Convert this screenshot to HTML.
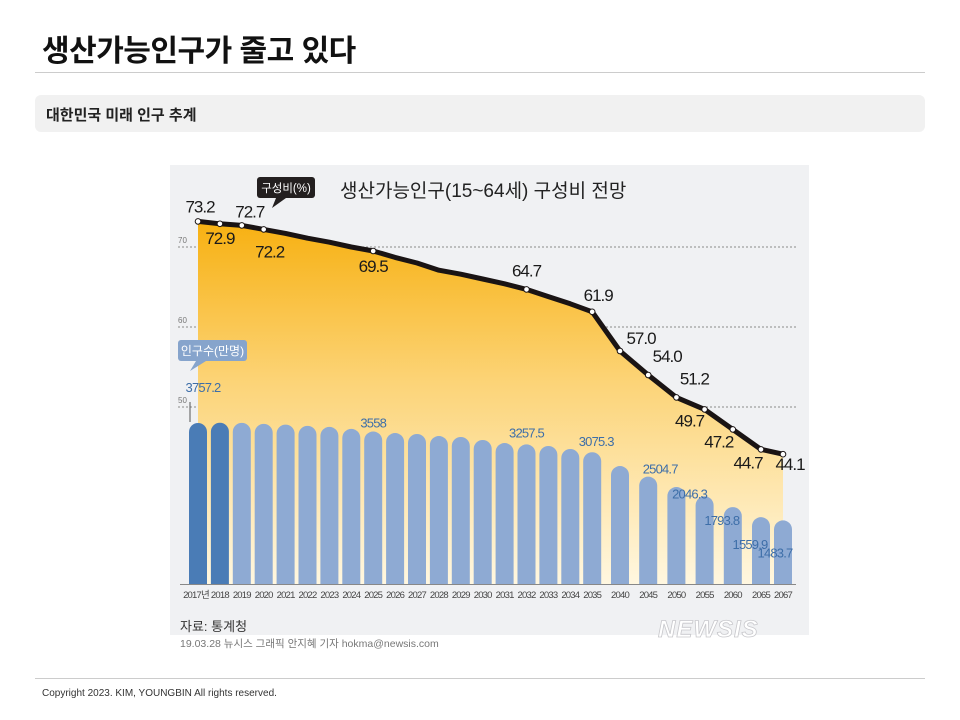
<!DOCTYPE html>
<html><head><meta charset="utf-8"><style>
body{margin:0;background:#fff;width:960px;height:720px;overflow:hidden;font-family:"Liberation Sans","Noto Sans CJK KR",sans-serif;position:relative}
.t{position:absolute;white-space:nowrap}
</style></head><body>
<div class="t" style="left:42px;top:26px;font-size:30px;font-weight:bold;color:#111;letter-spacing:-0.5px">생산가능인구가 줄고 있다</div>
<div style="position:absolute;left:35px;top:72px;width:890px;height:1px;background:#ccc"></div>
<div style="position:absolute;left:35px;top:95px;width:890px;height:37px;background:#f1f1f1;border-radius:6px"></div>
<div class="t" style="left:46px;top:104px;font-size:15px;color:#222;font-weight:bold">대한민국 미래 인구 추계</div>
<svg id="chart" style="position:absolute;left:0;top:0" width="960" height="720" font-family="Liberation Sans, Noto Sans CJK KR, sans-serif">
<defs>
<linearGradient id="ag" gradientUnits="userSpaceOnUse" x1="0" y1="220" x2="0" y2="584">
<stop offset="0" stop-color="#f7b010"/><stop offset="0.45" stop-color="#fcd478"/><stop offset="1" stop-color="#fff7e0"/>
</linearGradient>
</defs>
<rect x="170" y="165" width="639" height="470" fill="#f0f1f3"/>
<g id="grid"></g>
<path id="area" fill="url(#ag)"/>
<g id="bars"></g>
<line x1="180" y1="584.5" x2="796" y2="584.5" stroke="#888" stroke-width="1"/>
<g id="xlabels"></g>
<polyline id="line" fill="none" stroke="#1a1414" stroke-width="5" stroke-linejoin="round"/>
<g id="dots"></g>
<g id="vlabels"></g>
<g id="blabels"></g>
<text x="340" y="197" font-size="19" fill="#222">생산가능인구(15~64세) 구성비 전망</text>
<g>
<rect x="257" y="177" width="58" height="21" rx="3" fill="#231f1f"/>
<path d="M276 198 L272 208 L286 198 Z" fill="#231f1f"/>
<text x="286" y="192" font-size="11.5" fill="#fff" text-anchor="middle">구성비(%)</text>
</g>
<g>
<rect x="178" y="340" width="69" height="21" rx="3" fill="#86a4cc"/>
<path d="M196 361 L190 371 L206 361 Z" fill="#86a4cc"/>
<text x="212.5" y="355" font-size="12" fill="#fff" text-anchor="middle">인구수(만명)</text>
</g>
<line x1="190" y1="402" x2="190" y2="422" stroke="#555" stroke-width="1"/>
<text x="180" y="631" font-size="13" fill="#333">자료: 통계청</text>
<text x="180" y="647" font-size="10.5" fill="#777">19.03.28 뉴시스 그래픽 안지혜 기자 hokma@newsis.com</text>
<text x="658" y="637" font-size="24" font-weight="bold" font-style="italic" fill="#fff" stroke="#c8c8cc" stroke-width="0.8" letter-spacing="1">NEWSIS</text>
</svg>
<div style="position:absolute;left:35px;top:678px;width:890px;height:1px;background:#ccc"></div>
<div class="t" style="left:42px;top:688px;font-size:10px;color:#333">Copyright 2023. KIM, YOUNGBIN All rights reserved.</div>
<script>
const years=["2017년","2018","2019","2020","2021","2022","2023","2024","2025","2026","2027","2028","2029","2030","2031","2032","2033","2034","2035","2040","2045","2050","2055","2060","2065","2067"];
const population=[3757.2,3763,3760,3737,3719,3690,3665,3619,3558,3523,3500,3453,3430,3360,3290,3257.5,3220,3150,3075.3,2753,2504.7,2263,2046.3,1793.8,1559.9,1483.7];
const ratio=[73.2,72.9,72.7,72.2,71.7,71.1,70.6,70.0,69.5,68.7,68.0,67.1,66.6,66.0,65.4,64.7,63.8,62.9,61.9,57.0,54.0,51.2,49.7,47.2,44.7,44.1];
const gridTicks=[70,60,50];
const ratioLabelIdx=[0,1,2,3,8,15,18,19,20,21,22,23,24,25];
const popLabelIdx=[0,8,15,18,20,22,23,24,25];
const NS='http://www.w3.org/2000/svg';
function xPos(i){ if(i<=18) return 198+i*21.9; if(i<25) return 620+(i-19)*28.2; return 783; }
function yR(v){return 247-(v-70)*8;}
function yP(v){return 584-v*0.04286;}
function mk(tag,attrs,parent){const e=document.createElementNS(NS,tag);for(const k in attrs)e.setAttribute(k,attrs[k]);parent.appendChild(e);return e;}
const grid=document.getElementById('grid');
gridTicks.forEach(t=>{
 const l=mk('line',{x1:178,x2:796,y1:yR(t),y2:yR(t),stroke:'#8a8a8a','stroke-width':1,'stroke-dasharray':'2,2'},grid);
 
 
 const tx=mk('text',{x:178,y:yR(t)-4,'font-size':8,fill:'#777'},grid);tx.textContent=t;
 
 
});
let d='M'+xPos(0)+' 584';
ratio.forEach((v,i)=>{d+=' L'+xPos(i)+' '+yR(v);});
d+=' L'+xPos(ratio.length-1)+' 584 Z';
document.getElementById('area').setAttribute('d',d);
const bars=document.getElementById('bars');
population.forEach((v,i)=>{
 const x=xPos(i)-9,top=yP(v);
 const p=mk('path',{d:`M${x} 584 L${x} ${top+9} A9 9 0 0 1 ${x+18} ${top+9} L${x+18} 584 Z`,fill:i<2?'#4a7cb6':'#8eaad3'},bars);
 
 
});
const xl=document.getElementById('xlabels');
years.forEach((y,i)=>{
 const t=mk('text',{x:xPos(i)+(i===0?-2:0),y:598,'font-size':9.5,fill:'#444','text-anchor':'middle','letter-spacing':'-0.8'},xl);t.textContent=y;
 
 
});
document.getElementById('line').setAttribute('points',ratio.map((v,i)=>xPos(i)+','+yR(v)).join(' '));
const dots=document.getElementById('dots');
ratioLabelIdx.forEach(i=>{
 const c=mk('circle',{cx:xPos(i),cy:yR(ratio[i]),r:2.8,fill:'#fff',stroke:'#1a1414','stroke-width':1},dots);
 
 
});
const roff={0:[2,-9],1:[0,20],2:[8,-8],3:[6,28],8:[0,21],15:[0,-13],18:[6,-11],19:[21,-7],20:[19,-13],21:[18,-13],22:[-15,17],23:[-14,18],24:[-13,19],25:[7,16]};
const vl=document.getElementById('vlabels');
ratioLabelIdx.forEach(i=>{
 const o=roff[i];
 const t=mk('text',{x:xPos(i)+o[0],y:yR(ratio[i])+o[1],'font-size':17,fill:'#1a1a1a','text-anchor':'middle','letter-spacing':'-1'},vl);
 t.textContent=ratio[i].toFixed(1);
 
 
});
const poff={0:[5,-31],8:[0,-4],15:[0,-7],18:[4,-6],20:[12,-3],22:[-15,2],23:[-11,18],24:[-11,32],25:[-8,37]};
const bl=document.getElementById('blabels');
popLabelIdx.forEach(i=>{
 const o=poff[i];
 const t=mk('text',{x:xPos(i)+o[0],y:yP(population[i])+o[1],'font-size':13,fill:'#3d6ea8','text-anchor':'middle','letter-spacing':'-0.8'},bl);
 t.textContent=String(population[i]);
 
 
});
</script>
</body></html>
